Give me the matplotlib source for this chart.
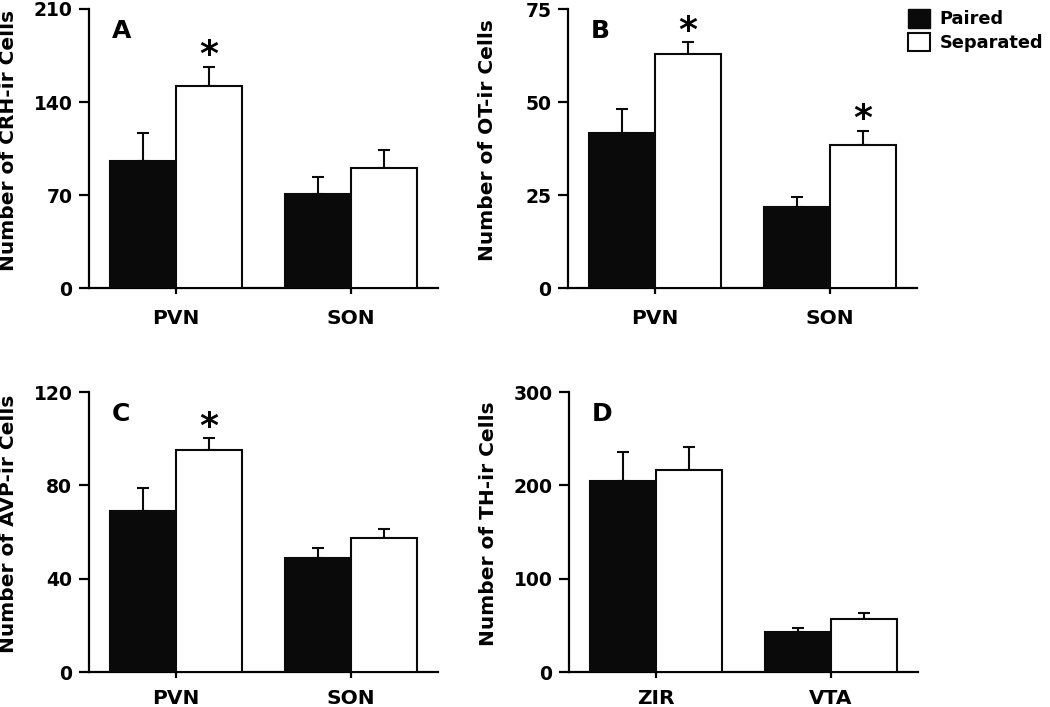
import matplotlib
matplotlib.use("Agg")
import matplotlib.pyplot as plt
import numpy as np
from matplotlib.patches import Patch

plt.rcParams['font.family'] = ['DejaVu Sans']
plt.rcParams['font.weight'] = 'bold'

# panel data: paired / separated means with upper error (SEM)
groups_A = ["PVN", "SON"]
paired_A = [95.5, 70.7]
paired_err_A = [21.0, 12.8]
sep_A = [152.0, 90.3]
sep_err_A = [14.5, 13.5]
yticks_A = [0, 70, 140, 210]

groups_B = ["PVN", "SON"]
paired_B = [41.7, 21.8]
paired_err_B = [6.4, 2.7]
sep_B = [62.9, 38.5]
sep_err_B = [3.2, 3.8]
yticks_B = [0, 25, 50, 75]

groups_C = ["PVN", "SON"]
paired_C = [69.0, 48.9]
paired_err_C = [9.9, 4.3]
sep_C = [95.1, 57.5]
sep_err_C = [5.2, 3.9]
yticks_C = [0, 40, 80, 120]

groups_D = ["ZIR", "VTA"]
paired_D = [204.6, 42.5]
paired_err_D = [31.0, 4.5]
sep_D = [216.4, 56.5]
sep_err_D = [24.5, 6.7]
yticks_D = [0, 100, 200, 300]

panels = [
    ("A", "Number of CRH-ir Cells", groups_A, paired_A, paired_err_A, sep_A, sep_err_A, yticks_A, [0]),
    ("B", "Number of OT-ir Cells", groups_B, paired_B, paired_err_B, sep_B, sep_err_B, yticks_B, [0, 1]),
    ("C", "Number of AVP-ir Cells", groups_C, paired_C, paired_err_C, sep_C, sep_err_C, yticks_C, [0]),
    ("D", "Number of TH-ir Cells", groups_D, paired_D, paired_err_D, sep_D, sep_err_D, yticks_D, []),
]

fig = plt.figure(figsize=(10.5, 7.07), dpi=100)
W, H = 1050, 707
rects = [(89, 9, 438, 288), (568, 9, 917, 288), (89, 392, 438, 672), (569, 392, 918, 672)]

bw = 0.377
for k, ((lab, ylab, groups, pm, pe, sm, se, yt, starred), (x0, y0, x1, y1)) in enumerate(zip(panels, rects)):
    ax = fig.add_axes([x0 / W, 1 - y1 / H, (x1 - x0) / W, (y1 - y0) / H])
    x = np.arange(len(groups))
    ax.bar(x - bw / 2, pm, bw, color="#0a0a0a", edgecolor="#0a0a0a", linewidth=1.5, zorder=3)
    ax.bar(x + bw / 2, sm, bw, color="white", edgecolor="#0a0a0a", linewidth=1.5, zorder=3)
    ax.errorbar(x - bw / 2, pm, yerr=[np.zeros(len(pm)), pe], fmt="none", ecolor="#0a0a0a",
                elinewidth=1.5, capsize=4, capthick=1.5, zorder=2)
    ax.errorbar(x + bw / 2, sm, yerr=[np.zeros(len(sm)), se], fmt="none", ecolor="#0a0a0a",
                elinewidth=1.5, capsize=4, capthick=1.5, zorder=2)
    for i in starred:
        ax.annotate("*", (x[i] + bw / 2, sm[i] + se[i]), xytext=(0, -4), textcoords="offset points",
                    ha="center", va="bottom", fontsize=26, fontweight="bold")
    ax.set_xlim(-0.5, 1.5)
    ax.set_ylim(0, yt[-1])
    ax.set_yticks(yt)
    ax.set_xticks(x)
    ax.set_xticklabels(groups)
    for s in ["top", "right"]:
        ax.spines[s].set_visible(False)
    for s in ["left", "bottom"]:
        ax.spines[s].set_linewidth(1.6)
    ax.tick_params(axis="y", length=7, width=1.6, labelsize=13.5, pad=5)
    ax.tick_params(axis="x", length=4, width=1.6, labelsize=14.5, pad=11 if k < 2 else 8)
    ax.set_ylabel(ylab, fontsize=14.5, fontweight="bold")
    ax.yaxis.set_label_coords(-0.203, 0.53)
    ax.text(0.066, 0.965, lab, transform=ax.transAxes, ha="left", va="top", fontsize=18, fontweight="bold")

handles = [Patch(facecolor="#0a0a0a", edgecolor="#0a0a0a", label="Paired"),
           Patch(facecolor="white", edgecolor="#0a0a0a", linewidth=1.5, label="Separated")]
fig.legend(handles=handles, loc="upper left", bbox_to_anchor=(903 / W, 1 - 4 / H), frameon=False,
           fontsize=12.8, handlelength=1.2, handleheight=1.2, handletextpad=0.55, labelspacing=0.25,
           borderaxespad=0, borderpad=0.3)

fig.savefig("out.png", dpi=100)
